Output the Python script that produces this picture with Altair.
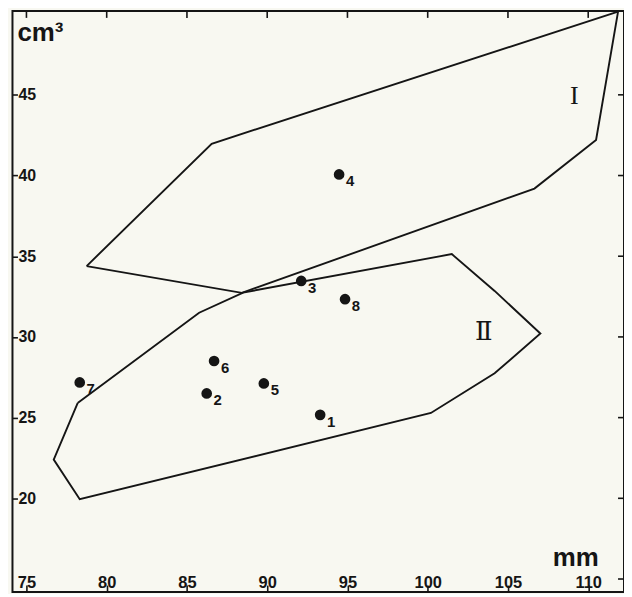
import altair as alt
import pandas as pd

# ---- data ----
x_ticks = [75, 80, 85, 90, 95, 100, 105, 110]
y_ticks = [20, 25, 30, 35, 40, 45]
y_ticks_right = [15, 20, 25, 30, 35, 40, 45]

poly1_x = [78.75, 86.54, 111.86, 110.49, 106.65, 88.42]
poly1_y = [34.39, 41.97, 50.15, 42.20, 39.19, 32.73]

poly2_x = [78.19, 85.76, 88.50, 101.50, 104.17, 107.02, 104.17, 100.20, 78.32, 76.70]
poly2_y = [25.90, 31.50, 32.75, 35.13, 32.85, 30.21, 27.75, 25.29, 19.94, 22.40]

pt_id = ["1", "2", "3", "4", "5", "6", "7", "8"]
pt_x = [93.30, 86.23, 92.12, 94.48, 89.79, 86.69, 78.32, 94.85]
pt_y = [25.17, 26.50, 33.47, 40.07, 27.12, 28.51, 27.18, 32.34]

group_names = ["I", "Ⅱ"]
group_x = [109.13, 103.49]
group_y = [44.94, 30.30]

# ---- tables ----
rows = []
for name, xs_, ys_ in [("I", poly1_x, poly1_y), ("II", poly2_x, poly2_y)]:
    for i, (a, b) in enumerate(list(zip(xs_, ys_)) + [(xs_[0], ys_[0])]):
        rows.append({"poly": name, "order": i, "x": a, "y": b})
poly_df = pd.DataFrame(rows)
pts_df = pd.DataFrame({"id": pt_id, "x": pt_x, "y": pt_y})
grp_df = pd.DataFrame({"name": group_names, "x": group_x, "y": group_y})
xt_df = pd.DataFrame({"x": x_ticks})
yt_df = pd.DataFrame({"y": y_ticks_right})

W, H = 614.5, 584
INK = "#151515"
SANS = "Liberation Sans"
xs = alt.Scale(domain=[74.13, 112.23], nice=False, zero=False)
ys = alt.Scale(domain=[14.19, 50.2], nice=False, zero=False)

x_axis = alt.Axis(
    values=x_ticks, orient="bottom", domain=False, grid=False,
    tickSize=7, offset=-7, tickColor=INK, tickWidth=1.6,
    labelPadding=-4.5, labelBaseline="alphabetic", labelAlign="center",
    labelFont=SANS, labelFontSize=16.5, labelFontWeight="bold", labelColor=INK,
    labelFlush=False, labelOverlap=False, labelBound=False, format="d",
    title="mm", titleFont=SANS, titleFontSize=26, titleFontWeight="bold",
    titleColor=INK, titleX=565.5, titleY=-19.5, titleAlign="center",
    titleBaseline="alphabetic",
)
y_axis = alt.Axis(
    values=y_ticks, orient="left", domain=False, grid=False,
    tickSize=5, offset=-5, tickColor=INK, tickWidth=1.6,
    labelPadding=-5.5, labelAlign="left", labelBaseline="middle",
    labelFont=SANS, labelFontSize=16, labelFontWeight="bold", labelColor=INK,
    labelFlush=False, labelOverlap=False, labelBound=False, format="d",
    title="cm³", titleFont=SANS, titleFontSize=26, titleFontWeight="bold",
    titleColor=INK, titleAngle=0, titleX=-0.5, titleY=29.5,
    titleAlign="left", titleBaseline="alphabetic",
)

X = alt.X("x:Q", scale=xs, axis=x_axis)
Y = alt.Y("y:Q", scale=ys, axis=y_axis)

polys = alt.Chart(poly_df).mark_line(color=INK, strokeWidth=1.9, strokeJoin="miter").encode(
    x=X, y=Y, detail="poly:N", order="order:Q",
)

dots = alt.Chart(pts_df).mark_circle(size=115, color=INK, opacity=1).encode(x=X, y=Y)

dot_labels = alt.Chart(pts_df).mark_text(
    dx=11, dy=7, font=SANS, fontSize=15, fontWeight="bold", color=INK,
    align="center", baseline="middle",
).encode(x=X, y=Y, text="id:N")

grp1 = alt.Chart(grp_df[grp_df["name"] == "I"]).mark_text(
    font="Liberation Serif", fontSize=26, color=INK, align="center", baseline="middle",
).encode(x=X, y=Y, text="name:N")
grp2 = alt.Chart(grp_df[grp_df["name"] != "I"]).mark_text(
    font="DejaVu Serif", fontSize=26, color=INK, align="center", baseline="middle",
).encode(x=X, y=Y, text="name:N")

top_ticks = alt.Chart(xt_df).mark_rule(color=INK, strokeWidth=1.6).encode(
    x=X, y=alt.value(0), y2=alt.value(7),
)
right_ticks = alt.Chart(yt_df).mark_rule(color=INK, strokeWidth=1.6).encode(
    y=Y, x=alt.value(W - 6), x2=alt.value(W),
)

chart = alt.layer(polys, top_ticks, right_ticks, dots, dot_labels, grp1, grp2).properties(
    width=W, height=H,
    background="#f8f8f1",
    padding={"left": 4.5, "top": 1.5, "right": 0, "bottom": 0},
    autosize=alt.AutoSizeParams(type="none"),
).configure_view(stroke=INK, strokeWidth=2)

chart.save("out.html", embed_options={"renderer": "svg", "actions": False})
